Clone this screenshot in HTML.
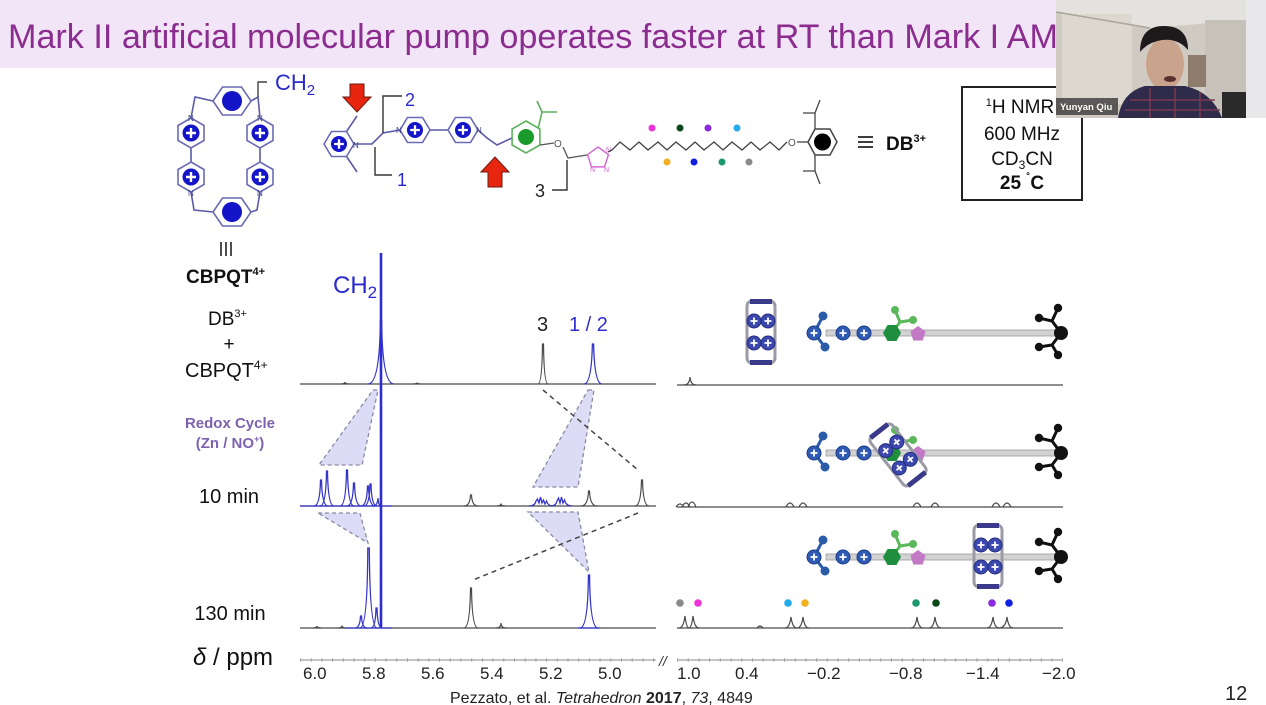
<!DOCTYPE html>
<html><head><meta charset="utf-8"><style>
html,body{margin:0;padding:0;background:#fff;width:1266px;height:705px;overflow:hidden}
svg{display:block;font-family:"Liberation Sans",Arial,sans-serif}
</style></head><body>
<svg width="1266" height="705" viewBox="0 0 1266 705" xmlns="http://www.w3.org/2000/svg">
<defs>
<g id="pp"><polygon points="0,-15 13,-7.5 13,7.5 0,15 -13,7.5 -13,-7.5" fill="#fff" stroke="#6a6ab4" stroke-width="1.6"/><circle r="8.5" fill="#1414c8"/><path d="M-5,0H5M0,-5V5" stroke="#fff" stroke-width="2.4"/></g>
<g id="ph"><polygon points="-15,0 -7.5,-12.5 7.5,-12.5 15,0 7.5,12.5 -7.5,12.5" fill="#fff" stroke="#6a6ab4" stroke-width="1.6"/><circle r="8" fill="#1414c8"/><path d="M-4.8,0H4.8M0,-4.8V4.8" stroke="#fff" stroke-width="2.3"/></g>
<g id="bz"><polygon points="-19,0 -9.5,-14 9.5,-14 19,0 9.5,14 -9.5,14" fill="#fff" stroke="#6a6ab4" stroke-width="1.6"/><circle r="10" fill="#1414c8"/></g>
<g id="bd"><circle r="7" fill="#2f5bb5" stroke="#1c3c86" stroke-width="1"/><path d="M-3.5,0H3.5M0,-3.5V3.5" stroke="#fff" stroke-width="1.8"/></g>
<g id="rb"><circle r="7" fill="#3c48b0" stroke="#24307a" stroke-width="1"/><path d="M-3.5,0H3.5M0,-3.5V3.5" stroke="#fff" stroke-width="1.8"/></g>
<g id="bs"><path d="M0,0 L9,-17 M0,0 L11,14" stroke="#2a5aa8" stroke-width="3" fill="none"/><circle cx="9" cy="-17" r="4.5" fill="#2a5aa8"/><circle cx="11" cy="14" r="4.5" fill="#2a5aa8"/><use href="#bd"/></g>
<g id="ks"><path d="M0,0 L-9,-12 L-22,-15 M-9,-12 L-3,-25 M0,0 L-9,12 L-22,14 M-9,12 L-3,22" stroke="#111" stroke-width="3" fill="none"/><circle r="7" fill="#111"/><circle cx="-22" cy="-15" r="4.2" fill="#111"/><circle cx="-3" cy="-25" r="4.2" fill="#111"/><circle cx="-22" cy="14" r="4.2" fill="#111"/><circle cx="-3" cy="22" r="4.2" fill="#111"/></g>
<g id="ring"><rect x="-14" y="-31" width="28" height="62" rx="5" fill="none" stroke="#9a9aa6" stroke-width="3"/><rect x="-11" y="-33" width="22" height="5" fill="#3a3a8a"/><rect x="-11" y="28" width="22" height="5" fill="#3a3a8a"/><use href="#rb" x="-7" y="-11"/><use href="#rb" x="7" y="-11"/><use href="#rb" x="-7" y="11"/><use href="#rb" x="7" y="11"/></g>
<g id="thr">
<rect x="826" y="-3" width="232" height="6" fill="#d2d2d2" stroke="#9a9a9a" stroke-width="0.8"/>
<use href="#bs" x="814"/>
<use href="#bd" x="843"/><use href="#bd" x="864"/>
<path d="M892,0 L900,-11 L895,-23 M900,-11 L913,-13" stroke="#5ab85a" stroke-width="3" fill="none"/>
<circle cx="895" cy="-23" r="4" fill="#5ab85a"/><circle cx="913" cy="-13" r="4" fill="#5ab85a"/>
<polygon points="883,0 887.5,-8 896.5,-8 901,0 896.5,8 887.5,8" fill="#1f8f3f"/>
<polygon points="918,-7 925.6,-1.5 922.7,7.5 913.3,7.5 910.4,-1.5" fill="#c27ac6"/>
<use href="#ks" x="1061"/>
</g>
</defs>

<!-- title band -->
<rect x="0" y="0" width="1266" height="68" fill="#f3e5f8"/>
<text x="8" y="48" font-size="34" fill="#8a2d8e" textLength="1050" lengthAdjust="spacingAndGlyphs">Mark II artificial molecular pump operates faster at RT than Mark I AM</text>

<!-- CBPQT structure -->
<g stroke="#5a5aa8" stroke-width="1.6" fill="none">
<path d="M213,101 L195,97 L191,118"/>
<path d="M251,101 L258,97 L260,118"/>
<path d="M191,148 V162"/><path d="M260,148 V162"/>
<path d="M191,192 L194,210 L213,212"/>
<path d="M260,192 L257,210 L251,212"/>
</g>
<path d="M258,97 V82 H267" stroke="#444" stroke-width="1.4" fill="none"/>
<use href="#bz" x="232" y="101"/>
<use href="#bz" x="232" y="212"/>
<use href="#pp" x="191" y="133"/><use href="#pp" x="191" y="177"/>
<use href="#pp" x="260" y="133"/><use href="#pp" x="260" y="177"/>
<g font-size="8" fill="#3a3a8a"><text x="188" y="121">N</text><text x="257" y="121">N</text><text x="188" y="196">N</text><text x="257" y="196">N</text></g>
<text x="275" y="90" font-size="22" fill="#2a2acc">CH<tspan font-size="15" dy="5">2</tspan></text>
<path d="M221,242 V256 M226,242 V256 M231,242 V256" stroke="#222" stroke-width="1.6"/>
<text x="186" y="283" font-size="19" font-weight="bold" fill="#111">CBPQT<tspan font-size="11" dy="-8">4+</tspan></text>

<!-- red arrows -->
<path d="M350,84 H364 V97 H371 L357,112 L343,97 H350 Z" fill="#e8260f" stroke="#6a1a10" stroke-width="1"/>
<path d="M495,157 L509,172 H502 V187 H488 V172 H481 Z" fill="#e8260f" stroke="#6a1a10" stroke-width="1"/>

<!-- thread structure -->
<g stroke="#5a5aa8" stroke-width="1.6" fill="none">
<path d="M346.5,131.5 L357,116 M346.5,156.5 L357,172"/>
<path d="M354,144 L372,144 L383,133 L400,130"/>
<path d="M430,130 H448"/>
<path d="M478,130 L487,138 L497,145 L512,138"/>
</g>
<use href="#ph" x="339" y="144"/>
<use href="#ph" x="415" y="130"/>
<use href="#ph" x="463" y="130"/>
<g font-size="8" fill="#3a3a8a"><text x="353" y="148">N</text><text x="396" y="133">N</text><text x="476" y="133">N</text></g>
<g stroke="#333" stroke-width="1.4" fill="none">
<path d="M383,133 V96 H402"/>
<path d="M375,147 V175 H392"/>
<path d="M567,160 V190 H552"/>
</g>
<text x="405" y="106" font-size="18" fill="#2a2acc">2</text>
<text x="397" y="186" font-size="18" fill="#2a2acc">1</text>
<text x="535" y="197" font-size="18" fill="#222">3</text>
<!-- green ring -->
<path d="M538,129 L542,112 L537,101 M542,112 L557,112" stroke="#5cb05c" stroke-width="1.6" fill="none"/>
<polygon points="526,121 539.9,129 539.9,145 526,153 512.1,145 512.1,129" fill="#fff" stroke="#5cb05c" stroke-width="1.6"/>
<circle cx="526" cy="137" r="8" fill="#1a9a2a"/>
<path d="M540,145 L554,143 M563,147 L568,158 L587,155" stroke="#555" stroke-width="1.3" fill="none"/>
<text x="554" y="147" font-size="10" fill="#555">O</text>
<!-- triazole -->
<polygon points="598,147 608.5,154.6 604.5,166.9 591.5,166.9 587.5,154.6" fill="none" stroke="#d66ad6" stroke-width="1.5"/>
<g font-size="7" fill="#d66ad6"><text x="606" y="152">N</text><text x="604" y="172">N</text><text x="590" y="172">N</text></g>
<!-- chain -->
<path d="M608,152 L612,150 L620,142 L630,150 L639,142 L648,150 L658,142 L667,150 L676,142 L686,150 L695,142 L704,150 L714,142 L723,150 L732,142 L742,150 L751,142 L760,150 L770,142 L779,150 L787,142" stroke="#444" stroke-width="1.3" fill="none"/>
<text x="788" y="146" font-size="10" fill="#555">O</text>
<path d="M797,142 H808" stroke="#444" stroke-width="1.3"/>
<polygon points="808,142 815,129 830,129 837,142 830,155 815,155" fill="#fff" stroke="#444" stroke-width="1.5"/>
<circle cx="822.5" cy="142" r="8.5" fill="#000"/>
<path d="M815,129 L815,113 L803,113 M815,113 L820,100 M815,155 L815,171 L803,171 M815,171 L820,184" stroke="#444" stroke-width="1.3" fill="none"/>
<g>
<circle cx="652" cy="128" r="3.5" fill="#ee33dd"/><circle cx="680" cy="128" r="3.5" fill="#0a4a1a"/><circle cx="708" cy="128" r="3.5" fill="#8a2ae0"/><circle cx="737" cy="128" r="3.5" fill="#22aaee"/>
<circle cx="667" cy="162" r="3.5" fill="#f0b020"/><circle cx="694" cy="162" r="3.5" fill="#1020e0"/><circle cx="722" cy="162" r="3.5" fill="#1a9a6a"/><circle cx="749" cy="162" r="3.5" fill="#8a8a8a"/>
</g>
<path d="M858,137 H873 M858,142 H873 M858,147 H873" stroke="#222" stroke-width="1.8"/>
<text x="886" y="150" font-size="19" font-weight="bold" fill="#111">DB<tspan font-size="11" dy="-8">3+</tspan></text>

<!-- NMR box -->
<rect x="962" y="87" width="120" height="113" fill="#fff" stroke="#222" stroke-width="2"/>
<g font-size="19" fill="#111" text-anchor="middle">
<text x="1020" y="113"><tspan font-size="11" dy="-7">1</tspan><tspan dy="7">H NMR</tspan></text>
<text x="1022" y="140">600 MHz</text>
<text x="1022" y="165">CD<tspan font-size="12" dy="4">3</tspan><tspan dy="-4">CN</tspan></text>
<text x="1022" y="189" font-weight="bold">25 <tspan font-size="12" dy="-7">˚</tspan><tspan dy="7">C</tspan></text>
</g>

<!-- left labels -->
<g fill="#111">
<text x="208" y="325" font-size="19">DB<tspan font-size="11" dy="-8">3+</tspan></text>
<text x="229" y="350" font-size="19" text-anchor="middle">+</text>
<text x="185" y="377" font-size="20">CBPQT<tspan font-size="12" dy="-8">4+</tspan></text>
<text x="230" y="428" font-size="15" font-weight="bold" fill="#7e62b0" text-anchor="middle">Redox Cycle</text>
<text x="230" y="448" font-size="15" font-weight="bold" fill="#7e62b0" text-anchor="middle">(Zn / NO<tspan font-size="9" dy="-6">+</tspan><tspan dy="6">)</tspan></text>
<text x="229" y="503" font-size="20" text-anchor="middle">10 min</text>
<text x="230" y="620" font-size="20" text-anchor="middle">130 min</text>
<text x="193" y="665" font-size="24"><tspan font-style="italic">δ</tspan> / ppm</text>
</g>

<!-- shaded regions -->
<g fill="#dcdcf6" stroke="#8a8aa6" stroke-width="1.3" stroke-dasharray="4 3">
<polygon points="373,390 378,390 362,465 319,465"/>
<polygon points="588,390 594,390 578,487 533,487"/>
<polygon points="318,513 360,513 368,543"/>
<polygon points="528,512 578,512 589,572"/>
</g>
<g stroke="#444" stroke-width="1.5" stroke-dasharray="5 4" fill="none">
<path d="M543,390 L638,470"/>
<path d="M638,513 L473,580"/>
</g>

<!-- spectra gray -->
<g stroke="#4a4a4a" stroke-width="1.2" fill="none">
<path d="M300,384 H656"/>
<path d="M538,384 Q542,384 542.5,344 L543.5,344 Q544,384 548,384"/>
<path d="M341,384 Q345,384 345,382 Q345,384 349,384"/>
<path d="M413,384 Q417,384 417,382.5 Q417,384 421,384"/>
<path d="M300,506 H656"/>
<path d="M464,506 Q470,506 470.5,495 L471.5,495 Q472,506 478,506"/>
<path d="M497,506 Q501,506 501,503.5 Q501,506 505,506"/>
<path d="M581,506 Q588,506 588.5,491 L589.5,491 Q590,506 597,506"/>
<path d="M635,506 Q641,506 641.5,480 L642.5,480 Q643,506 649,506"/>
<path d="M300,628 H656"/>
<path d="M464,628 Q470,628 470.5,588 L471.5,588 Q472,628 478,628"/>
<path d="M496,628 Q501,628 501,623 Q501,628 506,628"/>
<path d="M313,628 Q317,628 317,626 Q317,628 321,628"/>
<path d="M338,628 Q342,628 342,625.5 Q342,628 346,628"/>
<!-- right -->
<path d="M677,385 H1063"/>
<path d="M684,385 Q689.5,385 690,377 Q690.5,385 696,385"/>
<path d="M677,507 H1063"/>
<path d="M676,507 Q680,501 684,507 M682,507 Q686,499 690,507 M688,507 Q692,497 696,507 M786,507 Q790,499 794,507 M799,507 Q803,499 807,507 M913,507 Q917,499 921,507 M931,507 Q935,499 939,507 M992,507 Q996,499 1000,507 M1003,507 Q1007,499 1011,507"/>
<path d="M677,628 H1063"/>
<path d="M679,628 Q683.5,628 685,616 Q686.5,628 689,628 Q691.5,628 693,616 Q694.5,628 699,628"/>
<path d="M785,628 Q789.5,628 791,617 Q792.5,628 797,628 Q801.5,628 803,617 Q804.5,628 809,628"/>
<path d="M911,628 Q915.5,628 917,617 Q918.5,628 923,628 M929,628 Q933.5,628 935,617 Q936.5,628 941,628"/>
<path d="M987,628 Q991.5,628 993,617 Q994.5,628 999,628 Q1005.5,628 1007,617 Q1008.5,628 1013,628"/>
<path d="M757,628 Q760,624 763,628"/>
</g>

<!-- spectra blue -->
<g stroke="#3434c8" stroke-width="1.3" fill="none">
<path d="M584,384 Q591.5,384 592.4,344 L593.6,344 Q594.5,384 602,384"/>
<path d="M368,384 Q379.8,384 380.4,320 M394,384 Q382.2,384 381.6,320"/>
<path d="M300,506 H392"/>
<path d="M314,506 Q320,506 320.5,480 L321.5,480 Q322,506 328,506"/>
<path d="M320,506 Q326,506 326.5,471 L327.5,471 Q328,506 334,506"/>
<path d="M340,506 Q346,506 346.5,470 L347.5,470 Q348,506 354,506"/>
<path d="M347,506 Q353,506 353.5,483 L354.5,483 Q355,506 361,506"/>
<path d="M361,506 Q367,506 367.5,486 L368.5,486 Q369,506 375,506"/>
<path d="M364,506 Q369.5,506 370,484 L371,484 Q371.5,506 377,506"/>
<path d="M373,506 Q377.5,506 378,498 Q378.5,506 381,506"/>
<path d="M529,506 Q535,506 536,501 L537.5,499 L539,503 L540.5,497 L542,503 L543.5,500 L545,504 L546.5,501 Q548,506 553,506"/>
<path d="M551,506 Q556,506 557,501 L558.5,498 L560,503 L561.5,497 L563,503 L564.5,500 Q566,506 572,506"/>
<path d="M345,628 H392 M578,628 H600"/>
<path d="M355,628 Q360,628 360.5,616 L361.5,616 Q362,628 367,628"/>
<path d="M360,628 Q367.5,628 367.8,548 L369.3,548 Q369.8,628 377,628"/>
<path d="M371,628 Q375.5,628 376,608 L377,608 Q377.5,628 382,628"/>
<path d="M580,628 Q588,628 588.4,575 L589.6,575 Q590,628 598,628"/>
</g>
<path d="M381,253 V628" stroke="#2e2ed0" stroke-width="2.6"/>

<text x="333" y="293" font-size="24" fill="#2a2acc">CH<tspan font-size="17" dy="5">2</tspan></text>
<text x="537" y="331" font-size="20" fill="#222">3</text>
<text x="569" y="331" font-size="20" fill="#3030d0">1 / 2</text>

<!-- right dots -->
<g>
<circle cx="680" cy="603" r="3.8" fill="#8a8a8a"/><circle cx="698" cy="603" r="3.8" fill="#ee33dd"/>
<circle cx="788" cy="603" r="3.8" fill="#22aaee"/><circle cx="805" cy="603" r="3.8" fill="#f0b020"/>
<circle cx="916" cy="603" r="3.8" fill="#1a9a6a"/><circle cx="936" cy="603" r="3.8" fill="#0a4a1a"/>
<circle cx="992" cy="603" r="3.8" fill="#8a2ae0"/><circle cx="1009" cy="603" r="3.8" fill="#1020e0"/>
</g>

<!-- cartoons -->
<use href="#ring" x="761" y="332"/>
<use href="#thr" y="333"/>
<use href="#thr" y="453"/>
<g transform="translate(898,455) rotate(-38)"><use href="#ring"/></g>
<use href="#thr" y="557"/>
<use href="#ring" x="988" y="556"/>

<!-- axis -->
<path d="M300,660 H656 M677,660 H1063" stroke="#a0a0a0" stroke-width="1.2"/>
<path d="M300,660 H656 M677,660 H1063" stroke="#a0a0a0" stroke-width="3.5" stroke-dasharray="1 9.7"/>
<text x="659" y="666" font-size="14" font-style="italic" fill="#333">//</text>
<g font-size="17" fill="#222">
<text x="303" y="679">6.0</text>
<text x="362" y="679">5.8</text>
<text x="421" y="679">5.6</text>
<text x="480" y="679">5.4</text>
<text x="539" y="679">5.2</text>
<text x="598" y="679">5.0</text>
<text x="677" y="679">1.0</text>
<text x="735" y="679">0.4</text>
<text x="807" y="679">−0.2</text>
<text x="889" y="679">−0.8</text>
<text x="966" y="679">−1.4</text>
<text x="1042" y="679">−2.0</text>
</g>
<text x="450" y="703" font-size="16" fill="#222">Pezzato, et al. <tspan font-style="italic">Tetrahedron</tspan> <tspan font-weight="bold">2017</tspan>, <tspan font-style="italic">73</tspan>, 4849</text>
<text x="1225" y="700" font-size="20" fill="#222">12</text>

<!-- webcam -->
<rect x="1246" y="0" width="20" height="118" fill="#e8e8ea"/>
<rect x="1056" y="0" width="190" height="118" fill="#cfcbc3"/>
<polygon points="1056,0 1246,0 1246,20 1150,28 1056,12" fill="#e4e2de"/>
<rect x="1062" y="14" width="70" height="90" fill="#dcd8d0"/>
<line x1="1056" y1="12" x2="1150" y2="28" stroke="#a8a49c" stroke-width="1.5"/>
<rect x="1205" y="20" width="41" height="98" fill="#c6c2ba"/>
<rect x="1188" y="55" width="18" height="32" fill="#8e7c6c"/>
<rect x="1222" y="92" width="24" height="26" fill="#2a2a2a"/>
<ellipse cx="1165" cy="64" rx="19" ry="26" fill="#c9a38c"/>
<path d="M1140,52 Q1140,26 1164,26 Q1188,26 1188,50 Q1178,38 1162,40 Q1148,42 1140,52Z" fill="#1e1a1c"/>
<ellipse cx="1170" cy="79" rx="6" ry="3" fill="#5a3030"/>
<path d="M1118,118 Q1122,92 1145,86 L1185,86 Q1212,92 1222,118 Z" fill="#2e2c4a"/>
<path d="M1130,100 H1215 M1125,110 H1220 M1150,88 V118 M1175,88 V118 M1200,92 V118" stroke="#7a3a50" stroke-width="1.5"/>
<rect x="1056" y="98" width="62" height="17" fill="#3a3a3a" opacity="0.8"/>
<text x="1060" y="110" font-size="9.5" font-weight="bold" fill="#fff">Yunyan Qiu</text>
</svg>
</body></html>
